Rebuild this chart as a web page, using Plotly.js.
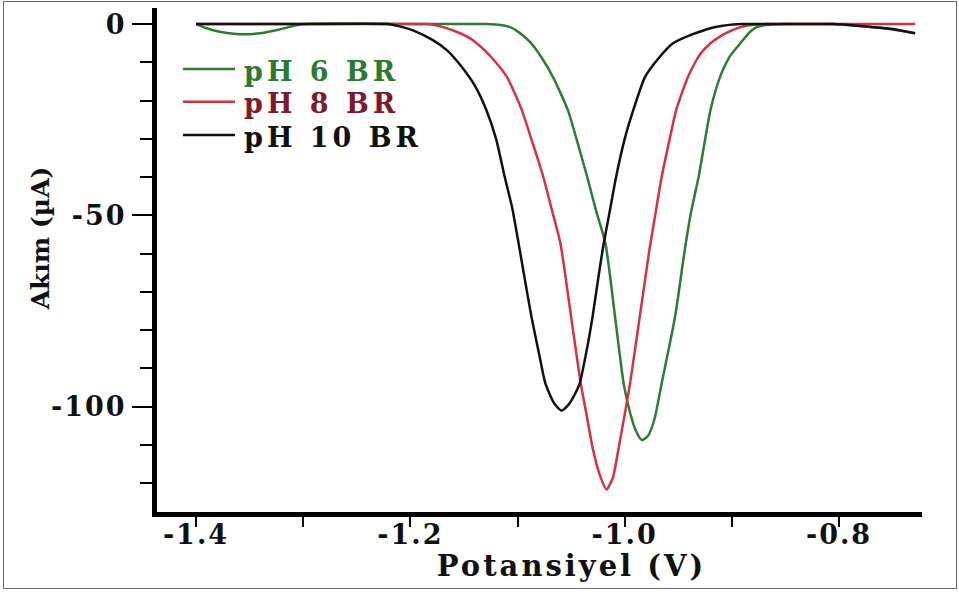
<!DOCTYPE html>
<html>
<head>
<meta charset="utf-8">
<script src="https://cdn.plot.ly/plotly-3.0.1.min.js"></script>
<style>
  html, body { margin: 0; padding: 0; background: #fff; }
  #wrap { position: relative; width: 959px; height: 592px; }
  #chart { position: absolute; left: 0; top: 0; width: 959px; height: 592px; }
  #frame { position: absolute; left: 3px; top: 1px; width: 952px; height: 586px; border: 1px solid #6a6a6a; pointer-events: none; }
  .xtick text, .ytick text { letter-spacing: 2px; }
  .g-xtitle text { letter-spacing: 3px; }
  .g-xtitle { transform: translate(32px, 2px); }
  .g-ytitle { transform: translate(10px, -22px); }
  .annotation-text { letter-spacing: 4px; }
</style>
</head>
<body>
<div id="wrap">
  <div id="chart"></div>
  <div id="frame"></div>
</div>
<script>
// ---- data ----
const seriesNames = ['pH 6 BR', 'pH 8 BR', 'pH 10 BR'];
const seriesColors = ['#2b7d2f', '#d9303f', '#111111'];
const legendTextColors = ['#2b7a2f', '#7d1a2a', '#111111'];

// pH 6 BR (green)
const potPH6 = [-1.400, -1.390, -1.378, -1.362, -1.340, -1.322, -1.300, -1.200, -1.129, -1.118, -1.107, -1.098, -1.088, -1.077, -1.067, -1.053, -1.044, -1.035, -1.027, -1.018, -1.009, -1.001, -0.995, -0.990, -0.984, -0.978, -0.972, -0.9655, -0.953, -0.944, -0.938, -0.931, -0.920, -0.911, -0.902, -0.892, -0.884, -0.877, -0.868, -0.858, -0.850, -0.806, -0.780, -0.750, -0.729];
const curPH6 = [0, -1.1, -2.0, -2.6, -2.4, -1.4, 0, 0, 0, -0.2, -0.8, -2.3, -4.8, -9.0, -13.8, -22.5, -31, -39.9, -48.5, -57.3, -76.5, -93.9, -101.5, -106, -108.7, -107.5, -103, -93.9, -76.5, -59.1, -49, -39.9, -22.5, -13.8, -8.5, -5.0, -2.3, -0.8, -0.25, -0.05, 0, 0, -0.5, -1.4, -2.4];

// pH 8 BR (red)
const potPH8 = [-1.400, -1.300, -1.200, -1.185, -1.172, -1.157, -1.147, -1.138, -1.124, -1.110, -1.103, -1.096, -1.086, -1.076, -1.068, -1.060, -1.050, -1.041, -1.035, -1.0295, -1.023, -1.017, -1.011, -1.006, -1.000, -0.995, -0.986, -0.977, -0.971, -0.9655, -0.958, -0.952, -0.941, -0.930, -0.920, -0.912, -0.905, -0.892, -0.880, -0.868, -0.800, -0.729];
const curPH8 = [0, 0, 0, 0, -0.6, -2.0, -3.3, -5.0, -8.8, -13.8, -17.8, -22.5, -31, -39.9, -48.5, -57.3, -76.5, -93.9, -103, -111.3, -118, -121.6, -118.5, -111.3, -102, -93.9, -76.5, -59.1, -49, -39.9, -30, -22.5, -13.8, -8.0, -5.0, -3.4, -2.3, -0.8, -0.2, 0, 0, 0];

// pH 10 BR (black)
const potPH10 = [-1.400, -1.300, -1.222, -1.210, -1.197, -1.179, -1.166, -1.154, -1.140, -1.129, -1.120, -1.112, -1.105, -1.099, -1.093, -1.087, -1.080, -1.074, -1.066, -1.059, -1.052, -1.047, -1.042, -1.036, -1.030, -1.025, -1.020, -1.014, -1.008, -1.000, -0.992, -0.981, -0.968, -0.955, -0.940, -0.930, -0.920, -0.910, -0.899, -0.890, -0.850, -0.806, -0.780, -0.750, -0.729];
const curPH10 = [0, 0, 0, -0.6, -1.7, -4.2, -6.8, -10.5, -16, -22.5, -30, -39.9, -48, -57.3, -67, -76.5, -86, -93.9, -99, -101, -99.3, -97, -93.9, -86, -76.5, -67, -58, -49, -39.9, -30, -22.5, -13.8, -8.8, -5.0, -3.0, -2.0, -1.1, -0.5, -0.1, 0, 0, 0, -0.5, -1.3, -2.4];

const xTickVals = [-1.4, -1.2, -1.0, -0.8];
const xTickText = ['-1.4', '-1.2', '-1.0', '-0.8'];
const yTickVals = [0, -50, -100];
const yTickText = ['0', '-50', '-100'];

const xTitle = 'Potansiyel (V)';
const yTitle = 'Akım (µA)';

// ---- build traces ----
const potentials = [potPH6, potPH8, potPH10];
const currents = [curPH6, curPH8, curPH10];
const traces = seriesNames.map((name, i) => ({
  type: 'scatter',
  mode: 'lines',
  x: potentials[i],
  y: currents[i],
  name: name,
  showlegend: false,
  line: { color: seriesColors[i], width: 2.5, shape: 'spline', smoothing: 0.6 }
}));

const font = 'DejaVu Serif, Liberation Serif, serif';

// legend drawn as key lines + labels (paper coordinates of the plot area)
const legendRowsY = [0.879, 0.814, 0.748];
const shapes = seriesNames.map((n, i) => ({
  type: 'line', xref: 'paper', yref: 'paper',
  x0: 0.034, x1: 0.102, y0: legendRowsY[i], y1: legendRowsY[i],
  line: { color: seriesColors[i], width: 2.5 }
}));
const annotations = seriesNames.map((n, i) => ({
  xref: 'paper', yref: 'paper', x: 0.111, y: legendRowsY[i] - 0.004,
  xanchor: 'left', yanchor: 'middle', showarrow: false,
  text: n,
  font: { family: font, size: 27, color: legendTextColors[i], weight: 'bold' }
}));

const layout = {
  width: 959,
  height: 592,
  margin: { l: 157, r: 37, t: 8, b: 80 },
  paper_bgcolor: '#ffffff',
  plot_bgcolor: '#ffffff',
  showlegend: false,
  shapes: shapes,
  annotations: annotations,
  xaxis: {
    range: [-1.4364, -0.7226],
    showline: true, linecolor: '#000', linewidth: 5,
    showgrid: false, zeroline: false,
    tickmode: 'array', tickvals: xTickVals, ticktext: xTickText,
    ticks: 'outside', ticklen: 10, tickwidth: 2, tickcolor: '#000',
    ticklabelstandoff: -15,
    minor: { tickmode: 'linear', tick0: -1.4, dtick: 0.1, ticks: 'outside', ticklen: 10, tickwidth: 2, tickcolor: '#000', showgrid: false },
    tickfont: { family: font, size: 27, color: '#111', weight: 'bold' },
    title: { text: xTitle, font: { family: font, size: 29, color: '#111', weight: 'bold' }, standoff: 6 }
  },
  yaxis: {
    range: [-127.5, 4.2],
    showline: true, linecolor: '#000', linewidth: 5,
    showgrid: false, zeroline: false,
    tickmode: 'array', tickvals: yTickVals, ticktext: yTickText,
    ticks: 'outside', ticklen: 20, tickwidth: 2, tickcolor: '#000',
    minor: { tickmode: 'linear', tick0: 0, dtick: 10, ticks: 'outside', ticklen: 12, tickwidth: 2, tickcolor: '#000', showgrid: false },
    tickfont: { family: font, size: 27, color: '#111', weight: 'bold' },
    title: { text: yTitle, font: { family: font, size: 25, color: '#111', weight: 'bold' }, standoff: 6 }
  }
};

Plotly.newPlot('chart', traces, layout, { displayModeBar: false, staticPlot: true });
</script>
</body>
</html>
